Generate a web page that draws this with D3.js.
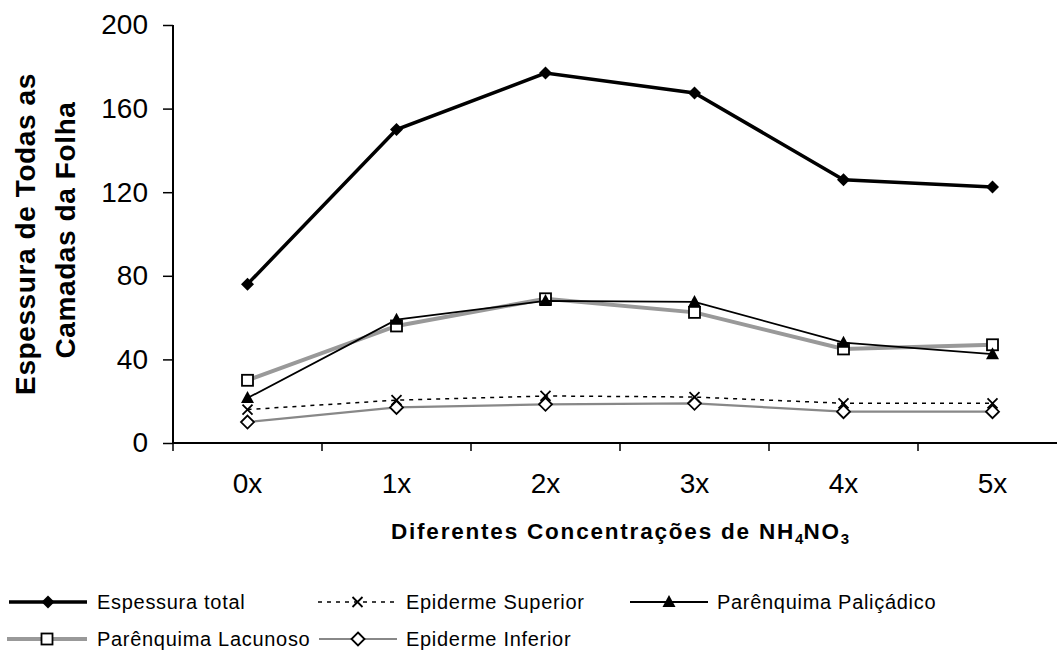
<!DOCTYPE html>
<html><head><meta charset="utf-8">
<script src="https://cdn.jsdelivr.net/npm/d3@7"></script>
<style>body{margin:0;background:#fff}svg text{font-family:"Liberation Sans",Arial,sans-serif}</style>
</head><body>
<svg id="c" width="1057" height="650"></svg>
<script>
const categories = ["0x","1x","2x","3x","4x","5x"];
const yTicks = [0,40,80,120,160,200];
const totalVals = [76,150,177,167.5,126,122.5];
const supVals = [16,20.5,22.5,22,19,19];
const palVals = [21.5,59,68,67.5,48,42.5];
const lacVals = [30,56,69,62.5,45,47];
const infVals = [10,17,18.5,19,15,15];

const series = [
  {name:"Espessura total", vals: totalVals, color:"#000", width:3.5, dash:null, marker:"diamondFill"},
  {name:"Epiderme Superior", vals: supVals, color:"#000", width:1.5, dash:"4,5", marker:"x"},
  {name:"Parênquima Paliçádico", vals: palVals, color:"#000", width:1.8, dash:null, marker:"triangle"},
  {name:"Parênquima Lacunoso", vals: lacVals, color:"#999", width:4, dash:null, marker:"square"},
  {name:"Epiderme Inferior", vals: infVals, color:"#888", width:2.2, dash:null, marker:"diamondOpen"}
];

const FONT = '"Liberation Sans",Arial,sans-serif';
const svg = d3.select("#c");
const x = d3.scaleBand().domain(categories).range([173,1067]);
const y = d3.scaleLinear().domain([0,200]).range([443,25]);

// axes
const yAxis = svg.append("g").attr("transform","translate(173,0)")
  .call(d3.axisLeft(y).tickValues(yTicks).tickSize(10).tickPadding(15))
  .attr("font-family",FONT);
yAxis.select(".domain").attr("stroke","#000").attr("stroke-width",2).attr("d","M0,25V443");
yAxis.selectAll(".tick line").attr("stroke-width",1.5);
yAxis.selectAll("text").attr("font-size",28).attr("fill","#000");

const xAxis = svg.append("g").attr("transform","translate(0,443)")
  .call(d3.axisBottom(x).tickSize(0).tickPadding(0))
  .attr("font-family",FONT);
xAxis.select(".domain").attr("stroke","#000").attr("stroke-width",2).attr("d","M173,0H1067");
xAxis.selectAll("text").attr("font-size",28).attr("fill","#000").attr("dy",null).attr("y",50);
// band boundary ticks
const bounds = categories.map(c=>x(c)).concat([x(categories[categories.length-1])+x.bandwidth()]);
svg.append("g").selectAll("line").data(bounds).join("line")
  .attr("x1",d=>d).attr("x2",d=>d).attr("y1",443).attr("y2",451)
  .attr("stroke","#000").attr("stroke-width",1.5);

// titles
svg.append("text").attr("transform","translate(35,234) rotate(-90)").attr("text-anchor","middle")
  .attr("font-size",28).attr("font-weight","bold").attr("letter-spacing",0.6).text("Espessura de Todas as");
svg.append("text").attr("transform","translate(75,230) rotate(-90)").attr("text-anchor","middle")
  .attr("font-size",28).attr("font-weight","bold").attr("letter-spacing",0.6).text("Camadas da Folha");
const xt = svg.append("text").attr("x",620).attr("y",539).attr("text-anchor","middle")
  .attr("font-size",22.5).attr("font-weight","bold").attr("letter-spacing",1.8);
xt.append("tspan").text("Diferentes Concentrações de NH");
xt.append("tspan").attr("font-size",15).attr("dy",5).attr("letter-spacing",0).text("4");
xt.append("tspan").attr("dy",-5).text("NO");
xt.append("tspan").attr("font-size",15).attr("dy",5).attr("letter-spacing",0).text("3");

function drawMarker(g, type, cx, cy){
  if(type==="diamondFill"){
    g.append("path").attr("d",`M${cx},${cy-6.5}L${cx+6.5},${cy}L${cx},${cy+6.5}L${cx-6.5},${cy}Z`).attr("fill","#000");
  } else if(type==="diamondOpen"){
    g.append("path").attr("d",`M${cx},${cy-6.5}L${cx+6.5},${cy}L${cx},${cy+6.5}L${cx-6.5},${cy}Z`)
      .attr("fill","#fff").attr("stroke","#000").attr("stroke-width",1.8);
  } else if(type==="square"){
    g.append("rect").attr("x",cx-5.5).attr("y",cy-5.5).attr("width",11).attr("height",11)
      .attr("fill","#fff").attr("stroke","#000").attr("stroke-width",1.8);
  } else if(type==="triangle"){
    g.append("path").attr("d",`M${cx},${cy-7}L${cx+6.5},${cy+5}L${cx-6.5},${cy+5}Z`).attr("fill","#000");
  } else if(type==="x"){
    g.append("path").attr("d",`M${cx-5},${cy-5}L${cx+5},${cy+5}M${cx+5},${cy-5}L${cx-5},${cy+5}`)
      .attr("stroke","#000").attr("stroke-width",1.8);
  }
}

const cx = c => x(c)+x.bandwidth()/2;
const line = d3.line().x((d,i)=>cx(categories[i])).y(d=>y(d));
const order = [4,1,3,2,0];
order.forEach(k=>{
  const s = series[k];
  const g = svg.append("g");
  g.append("path").datum(s.vals).attr("d",line).attr("fill","none")
    .attr("stroke",s.color).attr("stroke-width",s.width).attr("stroke-dasharray",s.dash);
  s.vals.forEach((v,i)=>drawMarker(g,s.marker,cx(categories[i]),y(v)));
});

// legend
const legendPos = [
  {x1:9,x2:87,ly:602,tx:97},
  {x1:318,x2:397,ly:602,tx:406},
  {x1:630,x2:708,ly:602,tx:717},
  {x1:7,x2:87,ly:639,tx:97},
  {x1:319,x2:397,ly:639,tx:406}
];
series.forEach((s,k)=>{
  const p = legendPos[k];
  const g = svg.append("g");
  g.append("line").attr("x1",p.x1).attr("x2",p.x2).attr("y1",p.ly).attr("y2",p.ly)
    .attr("stroke",s.color).attr("stroke-width",s.width).attr("stroke-dasharray",s.dash);
  drawMarker(g,s.marker,(p.x1+p.x2)/2,p.ly);
  g.append("text").attr("x",p.tx).attr("y",p.ly+7).attr("font-size",20).attr("letter-spacing",0.7).text(s.name);
});
</script>
</body></html>
